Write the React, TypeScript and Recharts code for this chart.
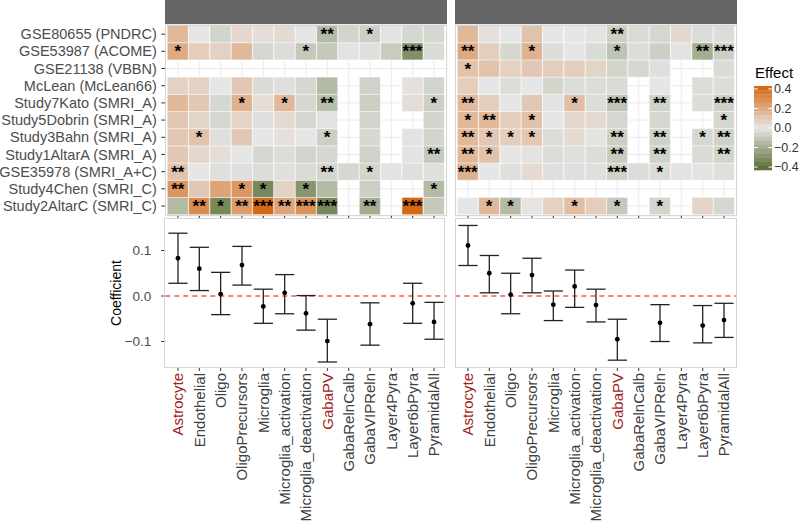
import React from 'react';
import {
  BarChart, Bar, Cell, LabelList, XAxis, YAxis, CartesianGrid,
  ScatterChart, Scatter, ErrorBar, ReferenceLine,
} from 'recharts';

const cellTypes = [
  'Astrocyte', 'Endothelial', 'Oligo', 'OligoPrecursors', 'Microglia',
  'Microglia_activation', 'Microglia_deactivation', 'GabaPV', 'GabaRelnCalb',
  'GabaVIPReln', 'Layer4Pyra', 'Layer6bPyra', 'PyramidalAll',
];
const highlighted = ['Astrocyte', 'GabaPV'];

const studies = [
  'GSE80655 (PNDRC)', 'GSE53987 (ACOME)', 'GSE21138 (VBBN)', 'McLean (McLean66)',
  'Study7Kato (SMRI_A)', 'Study5Dobrin (SMRI_A)', 'Study3Bahn (SMRI_A)',
  'Study1AltarA (SMRI_A)', 'GSE35978 (SMRI_A+C)', 'Study4Chen (SMRI_C)',
  'Study2AltarC (SMRI_C)',
];

const N = null;

// effect per study (rows) x cell type (cols)
const leftEffect: (number | null)[][] = [
  [0.15, 0.0, -0.06, 0.05, 0.03, 0.04, -0.005, -0.15, -0.06, -0.08, -0.01, -0.05, -0.05],
  [0.2, 0.08, 0.07, 0.15, -0.05, -0.03, -0.1, -0.1, -0.01, -0.02, -0.09, -0.3, -0.04],
  [N, N, N, N, N, N, N, N, N, N, N, N, N],
  [0.07, 0.07, 0.0, 0.1, -0.04, -0.02, -0.05, -0.15, N, -0.07, N, 0.02, -0.06],
  [0.15, 0.1, -0.05, 0.17, 0.03, 0.15, -0.05, -0.14, N, -0.08, N, 0.03, -0.08],
  [0.1, 0.06, -0.05, 0.06, -0.02, 0.04, -0.05, -0.01, N, -0.06, N, N, -0.06],
  [0.1, 0.12, -0.02, 0.1, 0.0, 0.02, 0.0, -0.08, N, -0.05, N, -0.01, -0.06],
  [0.1, 0.05, 0.03, 0.0, -0.05, -0.03, -0.06, -0.05, N, -0.07, N, -0.01, -0.1],
  [0.12, 0.0, -0.02, -0.02, -0.03, -0.02, -0.04, -0.06, -0.05, -0.06, -0.01, -0.02, -0.02],
  [0.27, 0.1, 0.22, 0.26, -0.33, 0.07, -0.28, -0.15, N, -0.08, N, N, -0.15],
  [-0.15, 0.3, -0.33, 0.25, 0.42, 0.22, 0.28, -0.33, N, -0.2, N, 0.42, -0.1],
];
const leftStars: string[][] = [
  ['', '', '', '', '', '', '', '**', '', '*', '', '', ''],
  ['*', '', '', '', '', '', '*', '', '', '', '', '***', ''],
  ['', '', '', '', '', '', '', '', '', '', '', '', ''],
  ['', '', '', '', '', '', '', '', '', '', '', '', ''],
  ['', '', '', '*', '', '*', '', '**', '', '', '', '', '*'],
  ['', '', '', '', '', '', '', '', '', '', '', '', ''],
  ['', '*', '', '', '', '', '', '*', '', '', '', '', ''],
  ['', '', '', '', '', '', '', '', '', '', '', '', '**'],
  ['**', '', '', '', '', '', '', '**', '', '*', '', '', ''],
  ['**', '', '', '*', '*', '', '*', '', '', '', '', '', '*'],
  ['', '**', '*', '**', '***', '**', '***', '***', '', '**', '', '***', ''],
];

const rightEffect: (number | null)[][] = [
  [0.15, 0.02, 0.0, 0.12, 0.0, 0.0, -0.01, -0.08, -0.04, -0.05, 0.05, -0.03, -0.03],
  [0.2, 0.08, -0.05, 0.17, -0.03, 0.0, -0.04, -0.12, -0.03, -0.08, -0.01, -0.2, -0.08],
  [0.12, 0.12, 0.07, 0.1, 0.08, 0.08, 0.06, -0.06, -0.05, -0.02, N, N, -0.04],
  [0.08, 0.0, -0.03, 0.0, -0.06, -0.03, -0.03, -0.04, N, 0.0, N, -0.03, -0.03],
  [0.15, 0.08, 0.0, 0.1, -0.01, 0.13, -0.03, -0.12, N, -0.07, N, -0.03, -0.08],
  [0.15, 0.15, 0.08, 0.12, 0.0, 0.05, 0.04, -0.05, N, -0.05, N, N, -0.05],
  [0.15, 0.1, 0.08, 0.1, -0.03, 0.04, -0.01, -0.08, N, -0.07, N, -0.05, -0.07],
  [0.15, 0.12, 0.0, -0.01, -0.03, -0.02, -0.03, -0.09, N, -0.07, N, -0.04, -0.06],
  [0.18, 0.0, -0.02, 0.04, -0.02, -0.02, -0.02, -0.07, -0.03, -0.04, -0.01, -0.01, -0.02],
  [N, N, N, N, N, N, N, N, N, N, N, N, N],
  [0.0, 0.15, -0.15, 0.01, 0.07, 0.13, 0.08, -0.1, N, -0.06, N, 0.06, -0.05],
];
const rightStars: string[][] = [
  ['', '', '', '', '', '', '', '**', '', '', '', '', ''],
  ['**', '', '', '*', '', '', '', '*', '', '', '', '**', '***'],
  ['*', '', '', '', '', '', '', '', '', '', '', '', ''],
  ['', '', '', '', '', '', '', '', '', '', '', '', ''],
  ['**', '', '', '', '', '*', '', '***', '', '**', '', '', '***'],
  ['*', '**', '', '*', '', '', '', '', '', '', '', '', '*'],
  ['**', '*', '*', '*', '', '', '', '**', '', '**', '', '*', '**'],
  ['**', '*', '', '', '', '', '', '**', '', '**', '', '', '**'],
  ['***', '', '', '', '', '', '', '***', '', '*', '', '', ''],
  ['', '', '', '', '', '', '', '', '', '', '', '', ''],
  ['', '*', '*', '', '', '*', '', '*', '', '*', '', '', ''],
];

const leftCoef = [0.083, 0.06, 0.004, 0.068, -0.023, 0.007, -0.038, -0.099, N, -0.062, N, -0.016, -0.057];
const leftLow = [0.028, 0.012, -0.041, 0.024, -0.06, -0.039, -0.075, -0.145, N, -0.108, N, -0.06, -0.095];
const leftHigh = [0.138, 0.107, 0.052, 0.109, 0.015, 0.047, 0.001, -0.051, N, -0.015, N, 0.028, -0.014];

const rightCoef = [0.111, 0.05, 0.003, 0.046, -0.019, 0.021, -0.02, -0.095, N, -0.059, N, -0.065, -0.053];
const rightLow = [0.067, 0.007, -0.039, 0.007, -0.054, -0.025, -0.057, -0.141, N, -0.1, N, -0.103, -0.091];
const rightHigh = [0.155, 0.089, 0.05, 0.083, 0.011, 0.057, 0.015, -0.051, N, -0.019, N, -0.021, -0.016];

const coefTicks = [-0.1, 0, 0.1];
const legendTicks = [0.4, 0.2, 0, -0.2, -0.4];

// layout
const FONT = '"Liberation Sans", Arial, Helvetica, sans-serif';
const PLOT_W = 281.4;
const LEFT_X = 165.3;
const RIGHT_X = 455.3;
const HEAT_TOP = 24.5;
const HEAT_BOTTOM = 216;
const COEF_TOP = 218;
const COEF_BOTTOM = 368;
const X_DOMAIN: [number, number] = [-0.594, 12.594];
const Y_DOMAIN: [number, number] = [-0.1582, 0.1714];
const LIMIT = 0.43;

const LOW = [85, 107, 47];
const MID = [230, 230, 230];
const HIGH = [212, 101, 15];

function effectColor(v: number) {
  const t = Math.max(-1, Math.min(1, v / LIMIT));
  const end = t < 0 ? LOW : HIGH;
  const a = Math.abs(t);
  const c = MID.map((m, i) => Math.round(m + (end[i] - m) * a));
  return `rgb(${c[0]},${c[1]},${c[2]})`;
}

const fmt = (v: number) => (v === 0 ? '0.0' : v.toFixed(1).replace('-', '\u2212'));

const rowTicks = studies.map((_, i) => i + 0.5);

function Heatmap({ effect, stars, showLabels }: { effect: (number | null)[][]; stars: string[][]; showLabels: boolean }) {
  const data = cellTypes.map((name, c) => {
    const row: any = { cell: name };
    studies.forEach((_, r) => {
      row[`r${r}`] = 1;
      row[`s${r}`] = stars[r][c];
    });
    return row;
  });
  // bottom row first in the stack
  const order = studies.map((_, i) => studies.length - 1 - i);
  const left = showLabels ? 0 : 5.3;
  const width = showLabels ? LEFT_X + PLOT_W + 3.3 : 5.3 + PLOT_W + 3.3;
  return (
    <BarChart
      width={width}
      height={HEAT_BOTTOM + 4}
      data={data}
      margin={{ top: HEAT_TOP, right: 3.3, bottom: 0, left }}
      barCategoryGap={0}
      barGap={0}
    >
      <CartesianGrid stroke="#ebebeb" strokeWidth={1} />
      <XAxis
        dataKey="cell"
        padding={{ left: 2, right: 2 }}
        height={4}
        tickSize={3}
        tickLine={{ stroke: '#333' }}
        axisLine={false}
        tickFormatter={() => ''}
        interval={0}
      />
      <YAxis
        type="number"
        domain={[-0.08, 11.06]}
        ticks={rowTicks}
        interval={0}
        hide={!showLabels}
        width={showLabels ? LEFT_X : 0}
        tickSize={4}
        tickMargin={4.5}
        axisLine={false}
        tickLine={{ stroke: '#333' }}
        tick={{ fontSize: 14.5, fill: '#4d4d4d' }}
        tickFormatter={(v: number) => studies[studies.length - 1 - Math.floor(v)]}
      />
      {order.map((r) => (
        <Bar key={r} dataKey={`r${r}`} stackId="h" isAnimationActive={false}>
          {cellTypes.map((_, c) => {
            const v = effect[r][c];
            return (
              <Cell
                key={c}
                fill={v == null ? 'none' : effectColor(v)}
                stroke={v == null ? 'none' : '#ffffff'}
                strokeWidth={0.6}
                strokeOpacity={0.7}
              />
            );
          })}
          <LabelList dataKey={`s${r}`} position="center" fill="#000" fontSize={17} fontWeight="bold" />
        </Bar>
      ))}
    </BarChart>
  );
}

const renderCellTick = (props: any) => {
  const { x, y, payload } = props;
  const name = cellTypes[payload.value];
  return (
    <text
      transform={`translate(${x},${y}) rotate(-90)`}
      textAnchor="end"
      dy="0.35em"
      fontSize={15}
      fill={highlighted.includes(name) ? '#a31c1c' : '#404040'}
    >
      {name}
    </text>
  );
};

const renderDot = (props: any) => <circle cx={props.cx} cy={props.cy} r={2.4} fill="#000" />;

function CoefPlot({ coef, low, high, showY }: { coef: (number | null)[]; low: (number | null)[]; high: (number | null)[]; showY: boolean }) {
  const points = cellTypes
    .map((_, i) => ({
      x: i,
      y: coef[i],
      err: coef[i] == null ? null : [(coef[i] as number) - (low[i] as number), (high[i] as number) - (coef[i] as number)],
    }))
    .filter((p) => p.y != null);
  const left = showY ? 0 : 5.3;
  const width = showY ? LEFT_X + PLOT_W + 3.3 : 5.3 + PLOT_W + 3.3;
  return (
    <ScatterChart
      width={width}
      height={524 - COEF_TOP}
      margin={{ top: 0, right: 3.3, bottom: 0, left }}
    >
      <XAxis
        type="number"
        dataKey="x"
        domain={X_DOMAIN}
        allowDataOverflow
        ticks={cellTypes.map((_, i) => i)}
        interval={0}
        height={524 - COEF_BOTTOM}
        tickSize={3}
        tickMargin={2}
        tickLine={{ stroke: '#333' }}
        axisLine={false}
        tick={renderCellTick}
      />
      <YAxis
        type="number"
        dataKey="y"
        domain={Y_DOMAIN}
        allowDataOverflow
        ticks={coefTicks}
        interval={0}
        hide={!showY}
        width={showY ? LEFT_X : 0}
        tickSize={4}
        tickMargin={10}
        axisLine={false}
        tickLine={{ stroke: '#333' }}
        tick={{ fontSize: 13.5, fill: '#4d4d4d' }}
        tickFormatter={fmt}
      />
      <ReferenceLine y={0} stroke="#ff0000" strokeDasharray="5 4" strokeWidth={1.2} />
      <Scatter data={points} isAnimationActive={false} shape={renderDot}>
        <ErrorBar dataKey="err" direction="y" width={9.6} stroke="#222" strokeWidth={1.3} isAnimationActive={false} />
      </Scatter>
    </ScatterChart>
  );
}

function Legend() {
  const barTop = 86;
  const barBottom = 170;
  const bins = 20;
  const yOf = (v: number) => barTop + ((LIMIT - v) / (2 * LIMIT)) * (barBottom - barTop);
  const binH = (barBottom - barTop) / bins;
  return (
    <svg width={55} height={200} style={{ position: 'absolute', left: 745, top: 50 }}>
      <g transform="translate(-745,-50)">
        <text x={755} y={78} fontSize={15} fill="#000">Effect</text>
        {Array.from({ length: bins }).map((_, i) => {
          const v = LIMIT - (i + 0.5) * (2 * LIMIT / bins);
          return <rect key={i} x={754} y={barTop + i * binH} width={18} height={binH + 0.3} fill={effectColor(v)} />;
        })}
        {legendTicks.map((v) => (
          <g key={v}>
            <line x1={754} x2={757.6} y1={yOf(v)} y2={yOf(v)} stroke="#fff" strokeWidth={1} />
            <line x1={768.4} x2={772} y1={yOf(v)} y2={yOf(v)} stroke="#fff" strokeWidth={1} />
            <text x={774} y={yOf(v)} dy="0.35em" fontSize={12.5} fill="#333">
              {fmt(v)}
            </text>
          </g>
        ))}
      </g>
    </svg>
  );
}

const panelBorder = (x: number, top: number, bottom: number): React.CSSProperties => ({
  position: 'absolute',
  left: x,
  top,
  width: PLOT_W,
  height: bottom - top,
  border: '1px solid #d6d6d6',
  boxSizing: 'border-box',
  pointerEvents: 'none',
});

const strip = (x: number): React.CSSProperties => ({
  position: 'absolute',
  left: x,
  top: 0,
  width: PLOT_W,
  height: 24,
  background: '#666666',
});

export default function App() {
  return (
    <div style={{ position: 'absolute', left: 0, top: 0, width: 800, height: 524, background: '#fff', fontFamily: FONT, overflow: 'hidden' }}>
      <div style={strip(LEFT_X)} />
      <div style={strip(RIGHT_X)} />
      <div style={{ position: 'absolute', left: 0, top: 0 }}>
        <Heatmap effect={leftEffect} stars={leftStars} showLabels />
      </div>
      <div style={{ position: 'absolute', left: RIGHT_X - 5.3, top: 0 }}>
        <Heatmap effect={rightEffect} stars={rightStars} showLabels={false} />
      </div>
      <div style={{ position: 'absolute', left: 0, top: COEF_TOP }}>
        <CoefPlot coef={leftCoef} low={leftLow} high={leftHigh} showY />
      </div>
      <div style={{ position: 'absolute', left: RIGHT_X - 5.3, top: COEF_TOP }}>
        <CoefPlot coef={rightCoef} low={rightLow} high={rightHigh} showY={false} />
      </div>
      <div style={panelBorder(LEFT_X, HEAT_TOP, HEAT_BOTTOM)} />
      <div style={panelBorder(RIGHT_X, HEAT_TOP, HEAT_BOTTOM)} />
      <div style={panelBorder(LEFT_X - 1.5, COEF_TOP, COEF_BOTTOM)} />
      <div style={panelBorder(RIGHT_X, COEF_TOP, COEF_BOTTOM)} />
      <div
        style={{
          position: 'absolute',
          left: 116,
          top: (COEF_TOP + COEF_BOTTOM) / 2,
          transform: 'translate(-50%, -50%) rotate(-90deg)',
          fontSize: 14,
          color: '#000',
          whiteSpace: 'nowrap',
        }}
      >
        Coefficient
      </div>
      <Legend />
    </div>
  );
}
